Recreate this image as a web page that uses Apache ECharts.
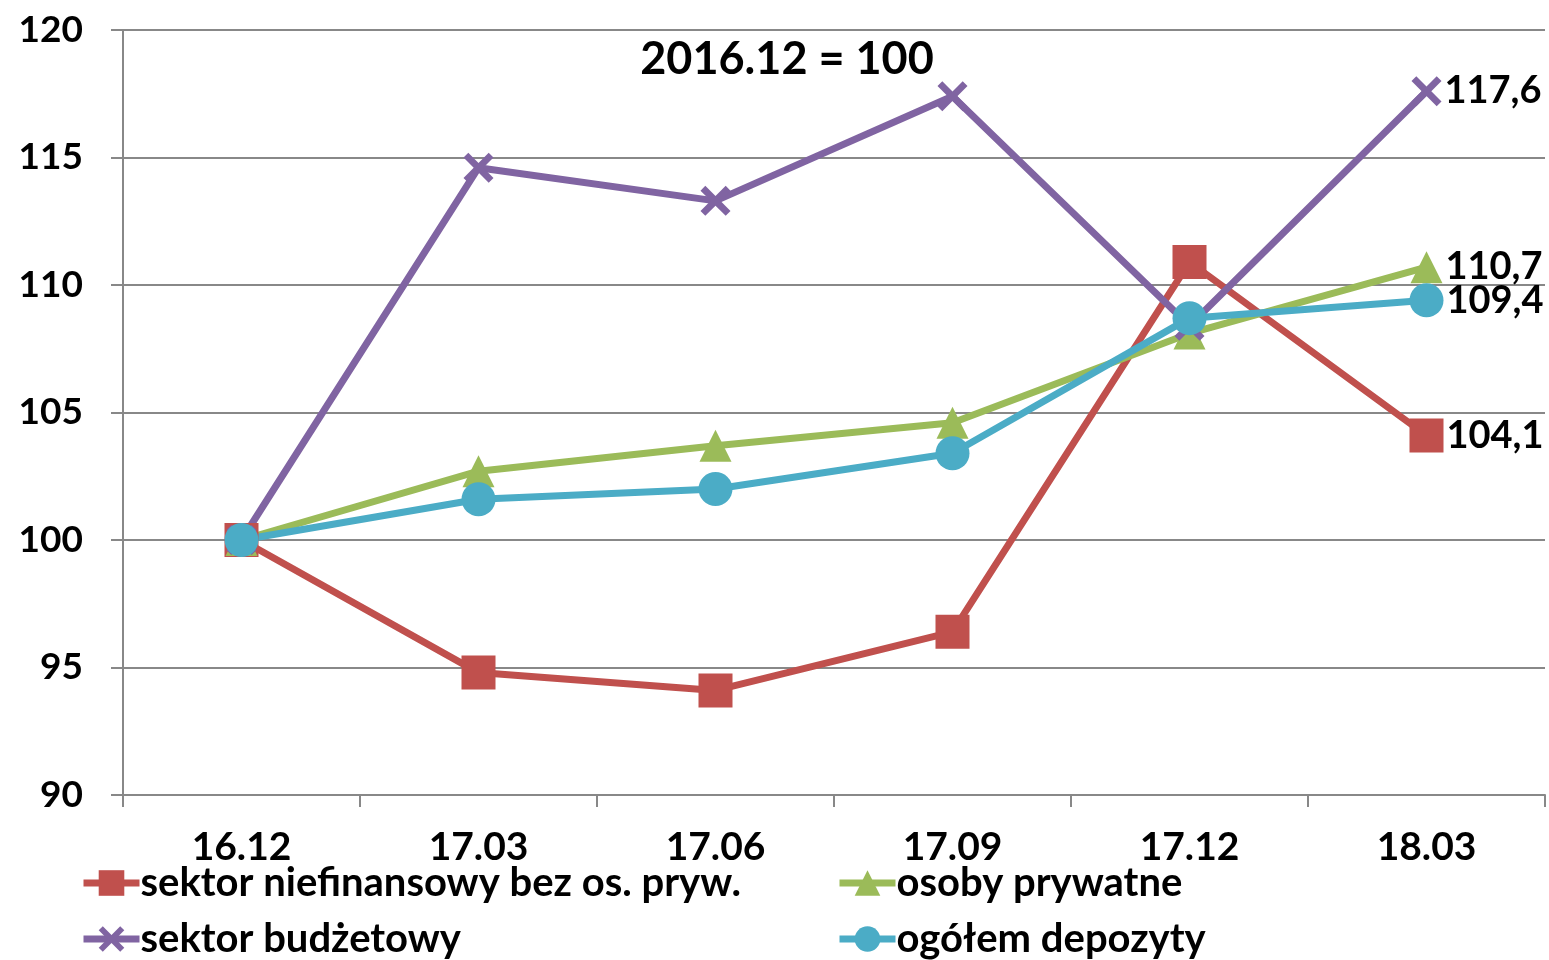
<!DOCTYPE html>
<html><head><meta charset="utf-8">
<script src="https://cdn.jsdelivr.net/npm/echarts@6/dist/echarts.min.js"></script>
<style>html,body{margin:0;padding:0;background:#fff}#c{width:1549px;height:960px}</style>
</head><body><div id="c"></div>
<script>
const categories = ['16.12','17.03','17.06','17.09','17.12','18.03'];
const seriesNames = ['sektor niefinansowy bez os. pryw.','osoby prywatne','sektor budżetowy','ogółem depozyty'];
const niefinansowy = [100, 94.8, 94.1, 96.4, 110.9, 104.1];
const prywatne = [100, 102.7, 103.7, 104.6, 108.1, 110.7];
const budzetowy = [100, 114.6, 113.3, 117.4, 108.4, 117.6];
const ogolem = [100, 101.6, 102.0, 103.4, 108.7, 109.4];
const titleText = '2016.12 = 100';

const FONT = 'Lato';
const xSym = 'path://M0,1.6 L1.6,0 L5,3.4 L8.4,0 L10,1.6 L6.6,5 L10,8.4 L8.4,10 L5,6.6 L1.6,10 L0,8.4 L3.4,5 Z';
const fmt = v => String(v).replace('.', ',');
const lastLabel = {
  show: true, position: 'right', distance: 3,
  fontFamily: FONT, fontWeight: 'bold', fontSize: 38, color: '#000',
  formatter: p => p.dataIndex === categories.length - 1 ? fmt(p.value) : ''
};
function mk(name, data, color, symbol, size) {
  return {
    name, type: 'line', data, symbol, symbolSize: size,
    lineStyle: { color, width: 7 }, itemStyle: { color },
    label: lastLabel, animation: false
  };
}
function lg(name, left, top) {
  return { data: [name], left, top, padding: 0,
    itemWidth: 56, itemHeight: 32,
    lineStyle: { width: 7 },
    textStyle: { fontFamily: FONT, fontWeight: 'bold', fontSize: 40, color: '#000', padding: [0,0,0,-4] } };
}
const chart = echarts.init(document.getElementById('c'));
chart.setOption({
  animation: false,
  title: { text: titleText, left: 782, top: 32, textAlign: 'center',
    textStyle: { fontFamily: FONT, fontWeight: 'bold', fontSize: 45, color: '#000' } },
  grid: { left: 123, right: 4, top: 30, bottom: 165 },
  xAxis: {
    type: 'category', data: categories, boundaryGap: true,
    axisLine: { lineStyle: { color: '#888', width: 2 } },
    axisTick: { show: true, length: 12, lineStyle: { color: '#888', width: 2 } },
    axisLabel: { fontFamily: FONT, fontWeight: 'bold', fontSize: 39, color: '#000', margin: 33 }
  },
  yAxis: {
    type: 'value', min: 90, max: 120, interval: 5,
    axisLine: { show: true, lineStyle: { color: '#888', width: 2 } },
    axisTick: { show: true, length: 12, lineStyle: { color: '#888', width: 2 } },
    splitLine: { lineStyle: { color: '#888', width: 2 } },
    axisLabel: { fontFamily: FONT, fontWeight: 'bold', fontSize: 37, color: '#000', margin: 40 }
  },
  legend: [
    lg(seriesNames[0], 80, 863),
    lg(seriesNames[1], 836, 863),
    lg(seriesNames[2], 80, 919),
    lg(seriesNames[3], 836, 919)
  ],
  series: [
    mk(seriesNames[0], niefinansowy, '#C0504D', 'rect', 34),
    mk(seriesNames[1], prywatne, '#9BBB59', 'triangle', 32),
    mk(seriesNames[2], budzetowy, '#8064A2', xSym, 30),
    mk(seriesNames[3], ogolem, '#4BACC6', 'circle', 34)
  ]
});
</script></body></html>
